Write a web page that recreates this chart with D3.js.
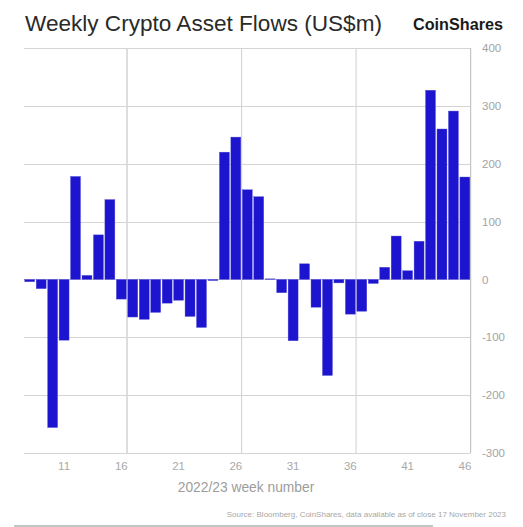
<!DOCTYPE html>
<html>
<head>
<meta charset="utf-8">
<script src="https://cdn.jsdelivr.net/npm/d3@7"></script>
<style>
  body { margin: 0; background: #fff; }
  text { font-family: "Liberation Sans", Arial, sans-serif; }
</style>
</head>
<body>
<svg></svg>
<script>
var svgWidth = 523, svgHeight = 527;

// weekly flows, US$m, weeks 8..46
var weeks = [8, 9, 10, 11, 12, 13, 14, 15, 16, 17, 18, 19, 20, 21, 22, 23, 24, 25, 26, 27,
             28, 29, 30, 31, 32, 33, 34, 35, 36, 37, 38, 39, 40, 41, 42, 43, 44, 45, 46];
var flows = [-4, -16, -256, -105, 178, 7, 77, 138, -34, -65, -69, -57, -41, -36, -64, -83, -2, 220, 246, 155,
             143, 1, -23, -106, 27, -48, -166, -6, -60, -55, -7, 21, 75, 15, 66, 327, 260, 291, 177];
var xTickWeeks = [11, 16, 21, 26, 31, 36, 41, 46];
var xGridWeeks = [16, 26, 36, 46];
var yTicks = [-300, -200, -100, 0, 100, 200, 300, 400];

var data = weeks.map(function (w, i) { return { week: w, value: flows[i] }; });

// plot box (window.top is reserved, so pTop etc.)
var pLeft = 24, pRight = 470.6, pTop = 48, pBottom = 453;

var svg = d3.select('svg')
    .attr('width', svgWidth)
    .attr('height', svgHeight);

var x = d3.scaleBand()
    .domain(weeks)
    .range([pLeft, pRight])
    .paddingInner(0.13)
    .paddingOuter(0.065);

var y = d3.scaleLinear()
    .domain([-300, 400])
    .range([pBottom, pTop]);

var step = x.step();

// horizontal gridlines
svg.append('g')
    .selectAll('line')
    .data(yTicks)
    .enter()
    .append('line')
    .attr('x1', pLeft)
    .attr('x2', pRight)
    .attr('y1', function (d) { return Math.round(y(d)) + 0.5; })
    .attr('y2', function (d) { return Math.round(y(d)) + 0.5; })
    .attr('stroke', '#d4d4d4')
    .attr('stroke-width', 1.2);

// vertical gridlines between categories
svg.append('g')
    .selectAll('line')
    .data(xGridWeeks)
    .enter()
    .append('line')
    .attr('x1', function (d) { return x(d) + x.bandwidth() + step * 0.065; })
    .attr('x2', function (d) { return x(d) + x.bandwidth() + step * 0.065; })
    .attr('y1', pTop)
    .attr('y2', pBottom)
    .attr('stroke', function (d) { return d === 46 ? '#c4c4c4' : '#d6d6d6'; })
    .attr('stroke-width', function (d) { return d === 16 ? 1.6 : 1.2; });

// bars
svg.append('g')
    .selectAll('rect')
    .data(data)
    .enter()
    .append('rect')
    .attr('x', function (d) { return x(d.week); })
    .attr('width', x.bandwidth())
    .attr('y', function (d) { return y(Math.max(0, d.value)); })
    .attr('height', function (d) { return Math.abs(y(d.value) - y(0)); })
    .attr('fill', '#1c14cf')
    .attr('stroke', '#5550d6')
    .attr('stroke-width', 0.4);

// y axis labels on the right, plain hyphen for negatives
var yAxis = d3.axisRight(y)
    .tickValues(yTicks)
    .tickFormat(function (d) { return String(d); })
    .tickSize(0)
    .tickPadding(0);

var yg = svg.append('g')
    .attr('transform', 'translate(482,0)')
    .call(yAxis);
yg.select('.domain').remove();
yg.selectAll('text')
    .attr('fill', '#a3a3a3')
    .style('font-size', '11.5px')
    .style('font-family', '"Liberation Sans", Arial, sans-serif');

// x axis labels
var xAxis = d3.axisBottom(x)
    .tickValues(xTickWeeks)
    .tickSize(0)
    .tickPadding(0);

var xg = svg.append('g')
    .attr('transform', 'translate(0,' + 462 + ')')
    .call(xAxis);
xg.select('.domain').remove();
xg.selectAll('text')
    .attr('fill', '#a8a8a8')
    .style('font-size', '11.5px')
    .style('font-family', '"Liberation Sans", Arial, sans-serif');

// axis title
svg.append('text')
    .attr('x', 246)
    .attr('y', 492)
    .attr('text-anchor', 'middle')
    .attr('fill', '#9c9c9c')
    .style('font-size', '13.8px')
    .text('2022/23 week number');

// title
svg.append('text')
    .attr('x', 25)
    .attr('y', 31)
    .attr('fill', '#2a2a2a')
    .attr('textLength', 357)
    .attr('lengthAdjust', 'spacingAndGlyphs')
    .style('font-size', '22px')
    .text('Weekly Crypto Asset Flows (US$m)');

// logo
svg.append('text')
    .attr('x', 413)
    .attr('y', 30)
    .attr('fill', '#1a1a1a')
    .attr('textLength', 90)
    .attr('lengthAdjust', 'spacingAndGlyphs')
    .style('font-size', '17px')
    .style('font-weight', 'bold')
    .text('CoinShares');

// source
svg.append('text')
    .attr('x', 506)
    .attr('y', 517)
    .attr('text-anchor', 'end')
    .attr('fill', '#a8a8a8')
    .style('font-size', '8px')
    .text('Source: Bloomberg, CoinShares, data available as of close 17 November 2023');

// bottom rule
svg.append('line')
    .attr('x1', 14)
    .attr('x2', 433)
    .attr('y1', 526)
    .attr('y2', 526)
    .attr('stroke', '#8c8c8c')
    .attr('stroke-width', 1.2);
</script>
</body>
</html>
